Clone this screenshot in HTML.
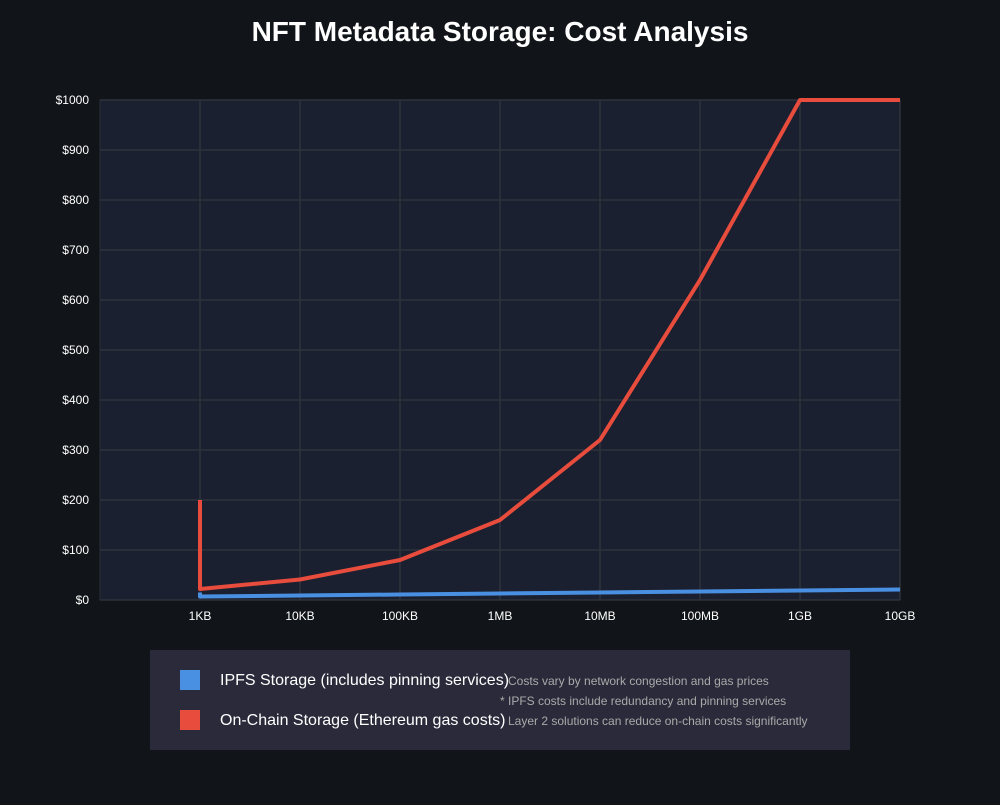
<!DOCTYPE html>
<html><head><meta charset="utf-8"><style>
body{margin:0;background:#111418;width:1000px;height:800px;overflow:hidden;font-family:"Liberation Sans",sans-serif}
</style></head><body>
<svg id="chart" width="1000" height="800">
<rect width="1000" height="800" fill="#111418"/>
<text x="500" y="41" text-anchor="middle" fill="#fff" font-size="28" font-weight="bold">NFT Metadata Storage: Cost Analysis</text>
<rect x="100" y="100" width="800" height="500" fill="#1b2030" stroke="#2a2e38"/>
<g id="grid"></g><g id="axes"></g><g id="lines"></g>
<rect x="150" y="650" width="700" height="100" fill="#2a2a3a"/>
<rect x="180" y="670" width="20" height="20" fill="#4a90e2"/>
<text x="220" y="685" fill="#fff" font-size="16">IPFS Storage (includes pinning services)</text>
<rect x="180" y="710" width="20" height="20" fill="#e74c3c"/>
<text x="220" y="725" fill="#fff" font-size="16">On-Chain Storage (Ethereum gas costs)</text>
<text x="508" y="685" fill="#aaa" font-size="12">Costs vary by network congestion and gas prices</text>
<text x="500" y="705" fill="#aaa" font-size="12">* IPFS costs include redundancy and pinning services</text>
<text x="508" y="725" fill="#aaa" font-size="12">Layer 2 solutions can reduce on-chain costs significantly</text>
</svg>
<script>
const categories=["1KB","10KB","100KB","1MB","10MB","100MB","1GB","10GB"];
const ipfsValues=[7,9,11,13,15,17,19,21];
const onchainValues=[22,41,80,160,320,640,1280,2560];
const ipfsStart=15;
const onchainStart=200;
const yTicks=[0,100,200,300,400,500,600,700,800,900,1000];
const NS="http://www.w3.org/2000/svg";
const x=i=>200+i*100;
const y=v=>600-Math.min(v,1000)*0.5;
function mk(tag,attrs,parent){const e=document.createElementNS(NS,tag);for(const k in attrs)e.setAttribute(k,attrs[k]);parent.appendChild(e);return e;}
const grid=document.getElementById('grid'),axes=document.getElementById('axes'),lines=document.getElementById('lines');
yTicks.forEach(t=>{
 const l=mk('line',{x1:100,x2:900,y1:y(t),y2:y(t),stroke:'#2e323c','stroke-width':1.5},grid);
 
 
 const tx=mk('text',{x:89,y:y(t)+4,'text-anchor':'end',fill:'#fff','font-size':12},axes);
 tx.textContent='$'+t;
 
 
});
categories.forEach((c,i)=>{
 const l=mk('line',{x1:x(i),x2:x(i),y1:100,y2:600,stroke:'#2e323c','stroke-width':1.5},grid);
 
 
 const tx=mk('text',{x:x(i),y:620,'text-anchor':'middle',fill:'#fff','font-size':12},axes);
 tx.textContent=c;
 
 
});
function series(vals,start,color,name){
 let d='M'+x(0)+','+y(start);
 vals.forEach((v,i)=>d+=' L'+x(i)+','+y(v));
 const p=mk('path',{d:d,fill:'none',stroke:color,'stroke-width':4,'stroke-linejoin':'round'},lines);
 
 
}
series(ipfsValues,ipfsStart,'#4a90e2','ipfs-line');
series(onchainValues,onchainStart,'#e74c3c','onchain-line');
</script>
</body></html>
